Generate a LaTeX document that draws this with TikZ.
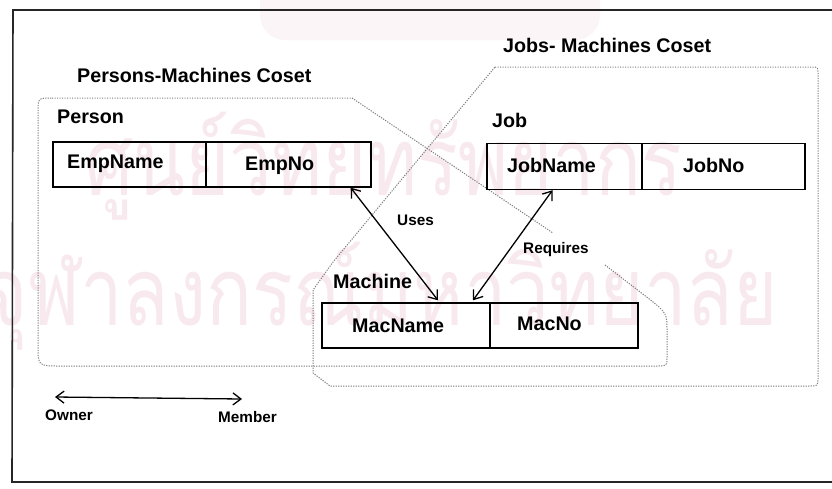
\documentclass[tikz,border=0pt]{standalone}
\usepackage{graphicx}
\usepackage{fontspec}
\setmainfont{Liberation Sans}
\newfontfamily\thaifont[Script=Thai]{Loma}
\usetikzlibrary{arrows.meta}
\definecolor{wm}{RGB}{248,233,239}
\definecolor{wmtop}{RGB}{252,245,248}
\definecolor{cosetgray}{RGB}{125,125,125}
\begin{document}
\begin{tikzpicture}[x=1pt,y=-1pt,
  cell/.style={draw=black, line width=1.4pt, minimum height=45pt, inner sep=0pt},
  lbl/.style={font=\bfseries\fontsize{19.7}{22}\selectfont, inner sep=0pt, anchor=base west},
  small/.style={font=\bfseries\fontsize{15.3}{18}\selectfont, inner sep=0pt, anchor=base west},
  coset/.style={draw=cosetgray, line width=1pt, dash pattern=on 1.2pt off 1.3pt},
  rel/.style={line width=1.3pt, {Straight Barb[length=8pt,width=12pt]}-{Straight Barb[length=8pt,width=12pt]}},
]
\useasboundingbox (0,0) rectangle (832,488);
\fill[white] (0,0) rectangle (832,488);

% watermark
\fill[wmtop, rounded corners=25pt] (260,-30) rectangle (600,40);
\node[anchor=base west, text=wm, inner sep=0pt] (wm1) at (85,195)
  {\scalebox{0.8}[1]{\thaifont\fontsize{95}{95}\selectfont ศูนย์วิทยทรัพยากร}};
\node[anchor=base east, text=wm, inner sep=0pt] (wm2) at (778,325)
  {\scalebox{0.8}[1]{\thaifont\fontsize{95}{95}\selectfont จุฬาลงกรณ์มหาวิทยาลัย}};

% frame
\draw[line width=1.6pt, black!85] (832,10) -- (13,10) -- (12,482) -- (832,482);

% cosets
\draw[coset] (52,98) -- (352,98) -- (553,233);
\draw[coset] (605,265) -- (648,298) .. controls (667,313) .. (667,332) -- (667,357)
  .. controls (667,366) .. (657,366) -- (60,366) .. controls (38,366) .. (38,345)
  -- (38,112) .. controls (38,98) .. (52,98);
\draw[coset] (495,67) -- (812,67) .. controls (818,67) .. (818,74) -- (818,378)
  .. controls (818,386) .. (809,386) -- (330,386) -- (313,373) -- (313,290)
  -- (333,262) -- cycle;

% coset labels
\node[lbl] (pmc) at (77,82) {Persons-Machines Coset};
\node[lbl] (jmc) at (503,52) {Jobs- Machines Coset};

% Person
\node[lbl] (person) at (57,123) {Person};
\node[cell, minimum width=153pt] (empname) at (129.5,164.5) {};
\node[cell, minimum width=165pt] (empno) at (288.5,164.5) {};
\node[lbl] (tempname) at (67,168) {EmpName};
\node[lbl] (tempno) at (245,170) {EmpNo};

% Job
\node[lbl] (job) at (492,127) {Job};
\node[cell, minimum width=155pt, minimum height=46pt] (jobname) at (564.5,166.5) {};
\node[cell, minimum width=163pt, minimum height=46pt] (jobno) at (723.5,166.5) {};
\node[lbl] (tjobname) at (507,172) {JobName};
\node[lbl] (tjobno) at (683,172) {JobNo};

% Machine
\node[lbl] (machine) at (333,288) {Machine};
\node[cell, minimum width=168pt] (macname) at (406,325.5) {};
\node[cell, minimum width=148pt] (macno) at (564,325.5) {};
\node[lbl] (tmacname) at (352,332) {MacName};
\node[lbl] (tmacno) at (517,330) {MacNo};

% relationships
\draw[rel] ([xshift=-21pt]empno.south east) -- ([xshift=32pt,yshift=2pt]macname.north);
\draw[rel] ([xshift=-12pt]jobname.south) -- ([xshift=67pt,yshift=2pt]macname.north);
\node[small] (uses) at (397,225) {Uses};
\node[small] (requires) at (523,253) {Requires};

% legend
\coordinate (own) at (55,397);
\coordinate (mem) at (242,399);
\draw[rel] (own) -- (mem);
\node[small] (owner) at (45,420) {Owner};
\node[small] (member) at (218,422) {Member};
\end{tikzpicture}
\end{document}
